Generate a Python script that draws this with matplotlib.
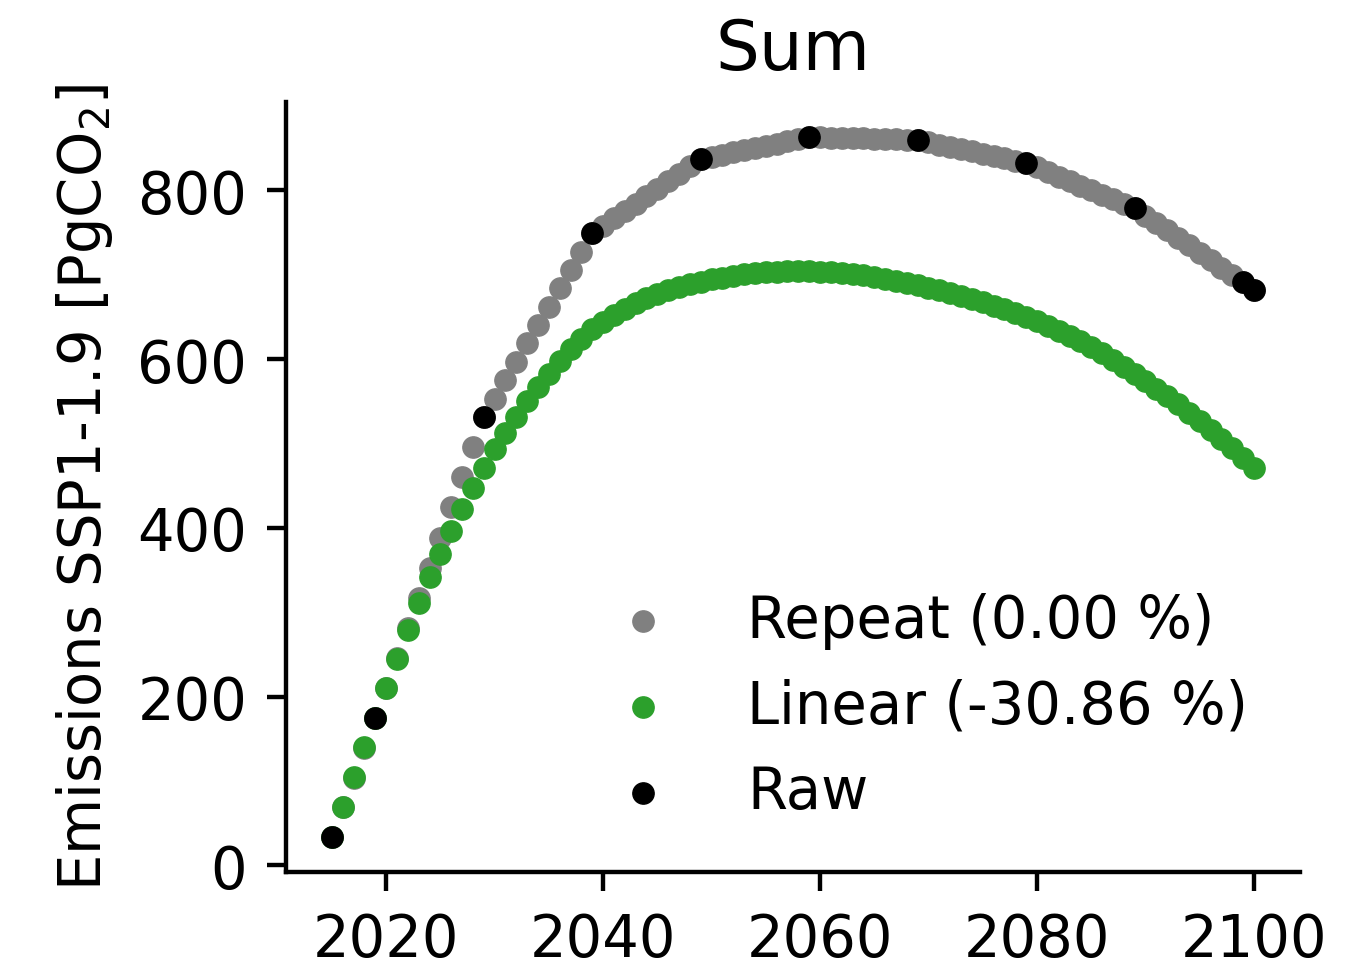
import matplotlib
matplotlib.use("Agg")
import matplotlib.pyplot as plt

# Cumulative CO2 emissions under SSP1-1.9, yearly from 2015 to 2100
years = list(range(2015, 2101))

repeat_vals = [
    33.7, 68.9, 104.0, 139.2, 174.3,
    210.0, 245.7, 281.5, 317.2, 352.9, 388.6, 424.3, 460.1, 495.8, 531.5,
    553.3, 575.1, 596.8, 618.6, 640.4, 662.2, 684.0, 705.7, 727.5, 749.3,
    758.1, 766.9, 775.7, 784.5, 793.3, 802.0, 810.8, 819.6, 828.4, 837.2,
    839.8, 842.4, 845.1, 847.7, 850.3, 852.9, 855.5, 858.1, 860.8, 863.4,
    863.1, 862.7, 862.4, 862.0, 861.7, 861.3, 861.0, 860.6, 860.3, 859.9,
    857.2, 854.4, 851.7, 848.9, 846.2, 843.5, 840.7, 838.0, 835.2, 832.5,
    827.2, 821.8, 816.5, 811.1, 805.8, 800.4, 795.1, 789.7, 784.4, 779.0,
    770.2, 761.4, 752.6, 743.8, 735.0, 726.2, 717.4, 708.6, 699.8, 691.0,
    681.6,
]

linear_vals = [
    33.7, 69.4, 105.0, 140.7, 174.5,
    210.5, 244.5, 278.5, 311.5, 341.5, 369.5, 396.0, 422.0, 447.0, 471.0,
    493.0, 513.0, 532.0, 550.0, 567.0, 583.0, 598.0, 612.0, 624.5, 635.5,
    644.5, 652.5, 659.5, 666.0, 672.0, 677.0, 681.5, 685.5, 689.0, 692.0,
    694.5, 696.7, 698.7, 700.4, 701.8, 702.9, 703.7, 704.2, 704.4, 704.3,
    703.9, 703.2, 702.2, 700.9, 699.3, 697.4, 695.3, 693.0, 690.5, 687.8,
    684.9, 681.8, 678.5, 675.0, 671.3, 667.4, 663.3, 659.0, 654.5, 649.8,
    644.9, 639.6, 633.9, 627.8, 621.3, 614.4, 607.1, 599.4, 591.3, 582.8,
    573.9, 565.0, 555.8, 546.3, 536.5, 526.4, 516.0, 505.3, 494.3, 483.0,
    471.4,
]

raw_years = [2015, 2019, 2029, 2039, 2049, 2059, 2069, 2079, 2089, 2099, 2100]
raw_vals = [33.7, 174.3, 531.5, 749.3, 837.2, 863.4, 859.9, 832.5, 779.0, 691.0, 681.6]

labels = ["Repeat (0.00 %)", "Linear (-30.86 %)", "Raw"]
colors = ["gray", "tab:green", "black"]

S = 3.96  # overall scale for lines and ticks
plt.rcParams.update({
    "font.family": "DejaVu Sans",
    "font.size": 41.5,
    "axes.linewidth": 0.8 * S,
    "xtick.major.size": 3.5 * S,
    "ytick.major.size": 3.5 * S,
    "xtick.major.width": 0.8 * S,
    "ytick.major.width": 0.8 * S,
    "xtick.major.pad": 3.5 * S,
    "ytick.major.pad": 3.5 * S,
    "axes.titlepad": 6 * S,
    "axes.labelpad": 4 * S,
})

fig = plt.figure(figsize=(13.48, 9.62), dpi=100)
ax = fig.add_axes([0.212, 0.0925, 0.7524, 0.8005])

ms = 235
ax.scatter(years, repeat_vals, s=ms, color=colors[0], label=labels[0])
ax.scatter(years, linear_vals, s=ms, color=colors[1], label=labels[1])
ax.scatter(raw_years, raw_vals, s=ms, color=colors[2], label=labels[2])

ax.set_title("Sum")
ax.set_ylabel("Emissions SSP1-1.9 [PgCO$_2$]")
ax.set_xticks([2020, 2040, 2060, 2080, 2100])
ax.set_yticks([0, 200, 400, 600, 800])

for side in ("top", "right"):
    ax.spines[side].set_visible(False)

ax.legend(loc="lower right", frameon=False)

fig.savefig("out.png", dpi=100)
